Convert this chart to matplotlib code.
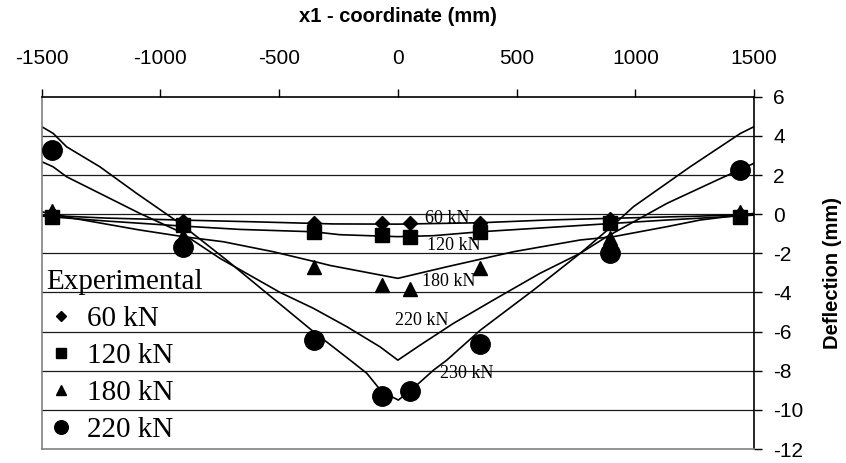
import matplotlib
matplotlib.use("Agg")
import matplotlib.pyplot as plt

plt.rcParams["axes.unicode_minus"] = False

# FE curves (x1 in mm, deflection in mm)
x_60 = [-1500, -1230, -918, -609, -272, 0, 347, 627, 908, 1273, 1500]
y_60 = [-0.05, -0.2, -0.3, -0.39, -0.5, -0.51, -0.44, -0.3, -0.21, -0.1, 0.0]

x_120 = [-1500, -1230, -918, -665, -356, -244, 0, 150, 347, 571, 908, 1133, 1500]
y_120 = [-0.1, -0.35, -0.6, -0.78, -0.9, -1.05, -1.15, -1.1, -0.9, -0.73, -0.47, -0.3, -0.05]

x_180 = [-1500, -1367, -1087, -904, -735, -525, -342, -286, 0, 206, 487, 768, 908, 1133, 1273, 1500]
y_180 = [0.12, -0.21, -0.81, -1.15, -1.41, -1.92, -2.45, -2.62, -3.28, -2.69, -1.92, -1.32, -1.15, -0.64, -0.3, 0.04]

x_220 = [-1500, -1452, -1395, -1255, -1087, -918, -749, -496, -356, -215, -75, 0,
         94, 234, 402, 599, 768, 880, 1133, 1344, 1500]
y_220 = [2.68, 2.42, 1.91, 1.06, 0.04, -0.9, -2.26, -4.0, -4.81, -5.75, -6.78, -7.46,
         -6.69, -5.58, -4.39, -3.02, -2.0, -1.15, 0.55, 1.74, 2.6]

x_230 = [-1500, -1452, -1395, -1255, -1100, -918, -721, -356, -201, -131, -68, 2,
         80, 150, 206, 347, 571, 768, 908, 992, 1231, 1442, 1500]
y_230 = [4.47, 4.13, 3.44, 2.42, 1.06, -0.47, -2.35, -6.0, -7.46, -8.13, -9.07, -9.5,
         -8.73, -7.97, -7.46, -5.93, -3.88, -2.0, -0.55, 0.38, 2.42, 4.12, 4.47]

# experimental points
x_exp = [-1455, -905, -355, -65, 50, 345, 895, 1440]
exp_60 = [0.0, -0.35, -0.44, -0.44, -0.44, -0.44, -0.27, 0.0]
exp_120 = [-0.16, -0.56, -0.9, -1.07, -1.15, -0.9, -0.47, -0.13]
exp_180 = [0.17, -1.1, -2.7, -3.6, -3.8, -2.77, -1.2, 0.12]
exp_220 = [3.28, -1.67, -6.43, -9.3, -9.04, -6.65, -2.0, 2.25]

fig = plt.figure(figsize=(8.46, 4.63), dpi=100)
ax = fig.add_axes([0.0493, 0.0302, 0.8420, 0.7609])

# horizontal grid
for yv in range(-10, 6, 2):
    ax.axhline(yv, color="#1a1a1a", lw=0.9, zorder=1)

# FE curves
for xs, ys in [(x_60, y_60), (x_120, y_120), (x_180, y_180), (x_220, y_220), (x_230, y_230)]:
    ax.plot(xs, ys, color="black", lw=1.2, zorder=2)

# experimental
ax.plot(x_exp, exp_60, "D", color="black", ms=7, ls="none", label="60 kN", zorder=3)
ax.plot(x_exp, exp_120, "s", color="black", ms=9.5, ls="none", label="120 kN", zorder=3)
ax.plot(x_exp, exp_180, "^", color="black", ms=10, ls="none", label="180 kN", zorder=3)
ax.plot(x_exp, exp_220, "o", color="black", ms=14, ls="none", label="220 kN", zorder=3)

# curve labels
serif = "Liberation Serif"
ax.text(115, -0.2, "60 kN", family=serif, fontsize=13, va="center")
ax.text(122, -1.58, "120 kN", family=serif, fontsize=13, va="center")
ax.text(101, -3.45, "180 kN", family=serif, fontsize=13, va="center")
ax.text(-12, -5.41, "220 kN", family=serif, fontsize=13, va="center")
ax.text(178, -8.13, "230 kN", family=serif, fontsize=13, va="center")

ax.set_xlim(-1500, 1500)
ax.set_ylim(-12, 6)
ax.set_xticks(range(-1500, 1501, 500))
ax.set_yticks(range(-12, 7, 2))

ax.xaxis.tick_top()
ax.xaxis.set_label_position("top")
ax.yaxis.tick_right()
ax.yaxis.set_label_position("right")
ax.tick_params(axis="x", direction="out", length=6, width=1, pad=15, labelsize=15)
ax.tick_params(axis="y", direction="out", length=6, width=1, pad=8, labelsize=15)
for lab in ax.get_xticklabels() + ax.get_yticklabels():
    lab.set_family("Liberation Sans")

ax.set_xlabel("x1 - coordinate (mm)", family="Liberation Sans", fontsize=14.5,
              fontweight="bold", labelpad=19)
ax.set_ylabel("Deflection (mm)", family="Liberation Sans", fontsize=14.5,
              fontweight="bold", labelpad=14)

ax.spines["top"].set_color("black")
ax.spines["right"].set_color("black")
ax.spines["left"].set_color("#808080")
ax.spines["bottom"].set_color("#808080")
for s in ax.spines.values():
    s.set_linewidth(1.2)

leg = ax.legend(title="Experimental", loc="lower left", bbox_to_anchor=(0.006, 0.016),
                frameon=False, prop={"family": serif, "size": 21},
                title_fontproperties={"family": serif, "size": 21},
                markerscale=0.7, handlelength=1.0, handletextpad=0.4,
                labelspacing=0.37, borderpad=0.0, borderaxespad=0.0, alignment="left")

fig.savefig("out.png", dpi=100)
